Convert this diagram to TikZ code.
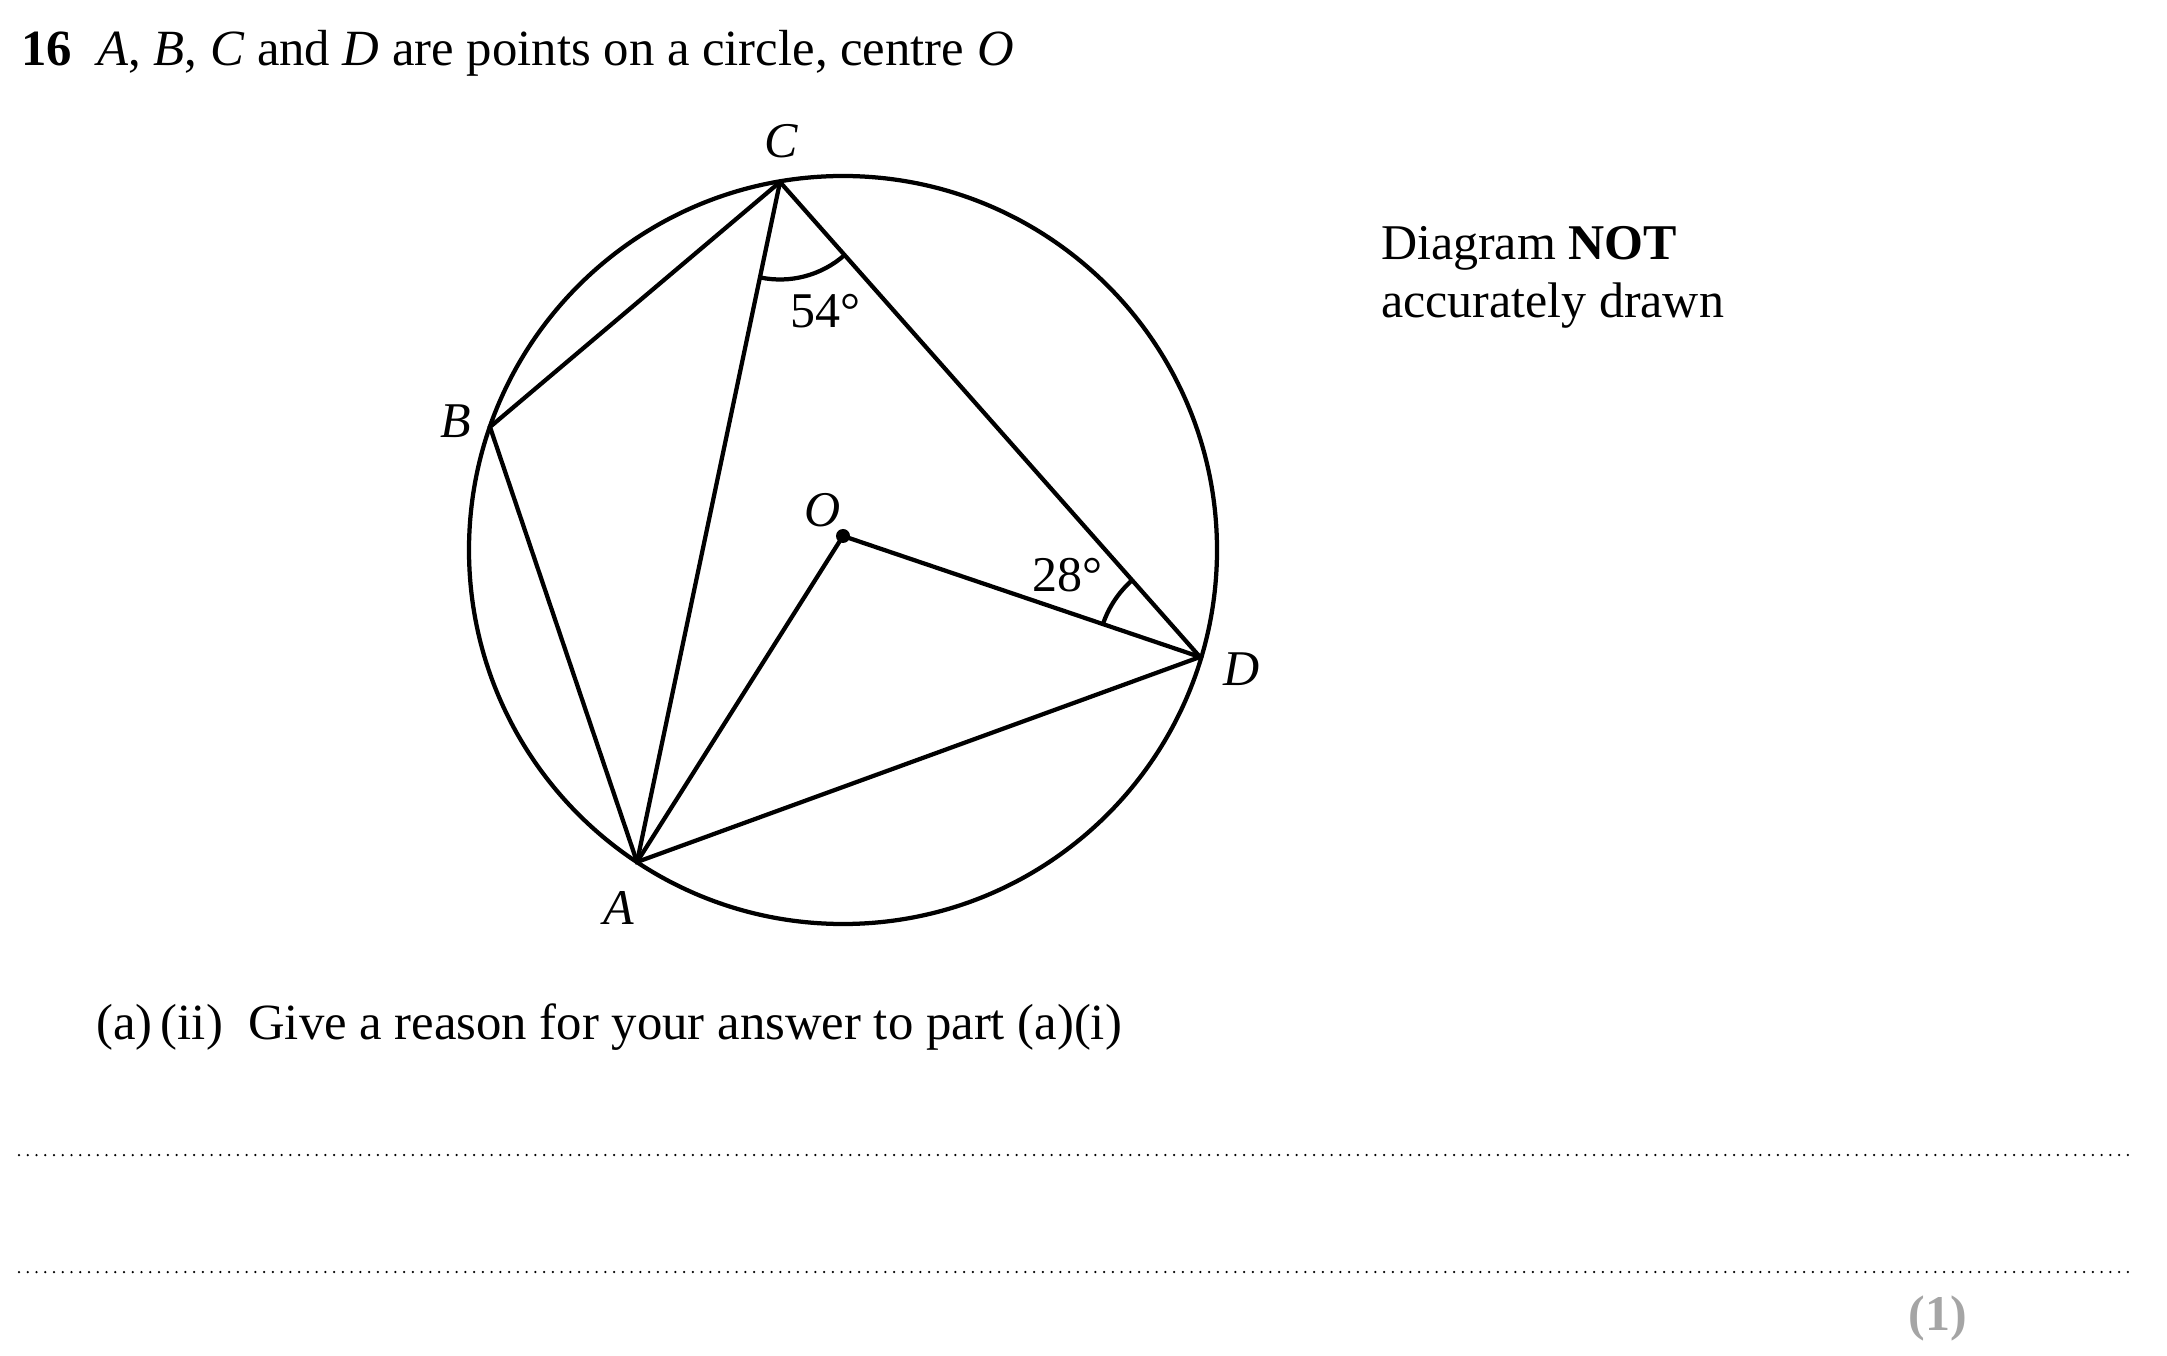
\documentclass[tikz,border=0pt]{standalone}
\usepackage{fontspec}
\setmainfont{Liberation Serif}
\usepackage{xcolor}
\usetikzlibrary{angles}
\definecolor{markgrey}{RGB}{165, 165, 165}

\begin{document}
\begin{tikzpicture}[x=0.4pt, y=0.4pt, line width=1.7pt, font=\fontsize{20}{23}\selectfont]
\useasboundingbox (0,0) rectangle (2167,1355);

% Question text
\node[anchor=base west, inner sep=0, font=\fontsize{20.3}{23}\selectfont] (title) at (19,1289) {\textbf{16}\enskip\textit{A}, \textit{B}, \textit{C} and \textit{D} are points on a circle, centre \textit{O}};
\node[anchor=base west, inner sep=0] (diagA) at (1379,1095) {Diagram \textbf{NOT}};
\node[anchor=base west, inner sep=0] (diagB) at (1379,1037) {accurately drawn};

% Points
\coordinate (K) at (843,805);
\foreach \p/\x/\y in {A/637/493, B/490/928, C/780/1173, D/1200/698, O/843/819}{
    \coordinate (\p) at (\x,\y);
}
\foreach \t/\x/\y in {A/619/447, B/456/934, C/781/1214, D/1242/686, O/823/845}{
    \node (lab\t) at (\x,\y) {\textit{\t}};
}

% Circle and chords
\draw (K) circle (374);
\draw (A) -- (B) -- (C) -- (D) -- cycle;
\draw (A) -- (C);
\draw (A) -- (O) -- (D);
\fill (O) circle (7);

% Angles
\draw pic[draw, angle radius=39pt] {angle = A--C--D};
\draw pic[draw, angle radius=41pt] {angle = C--D--O};
\node (angC) at (825,1044) {54°};
\node (angD) at (1067,780) {28°};

% Part (a)(ii)
\node[anchor=base west, inner sep=0, font=\fontsize{20.3}{23}\selectfont] (part) at (94,316) {(a)\,(ii)\hspace{0.5em}Give a reason for your answer to part (a)(i)};

% Answer lines
\coordinate (r1s) at (19,200);
\coordinate (r1e) at (2132,200);
\coordinate (r2s) at (19,83);
\coordinate (r2e) at (2132,83);
\draw[line width=1pt, line cap=round, dash pattern=on 0pt off 3.5pt] (r1s) -- (r1e);
\draw[line width=1pt, line cap=round, dash pattern=on 0pt off 3.5pt] (r2s) -- (r2e);
\node[markgrey] (mark) at (1938,37) {\textbf{(1)}};

\end{tikzpicture}
\end{document}
